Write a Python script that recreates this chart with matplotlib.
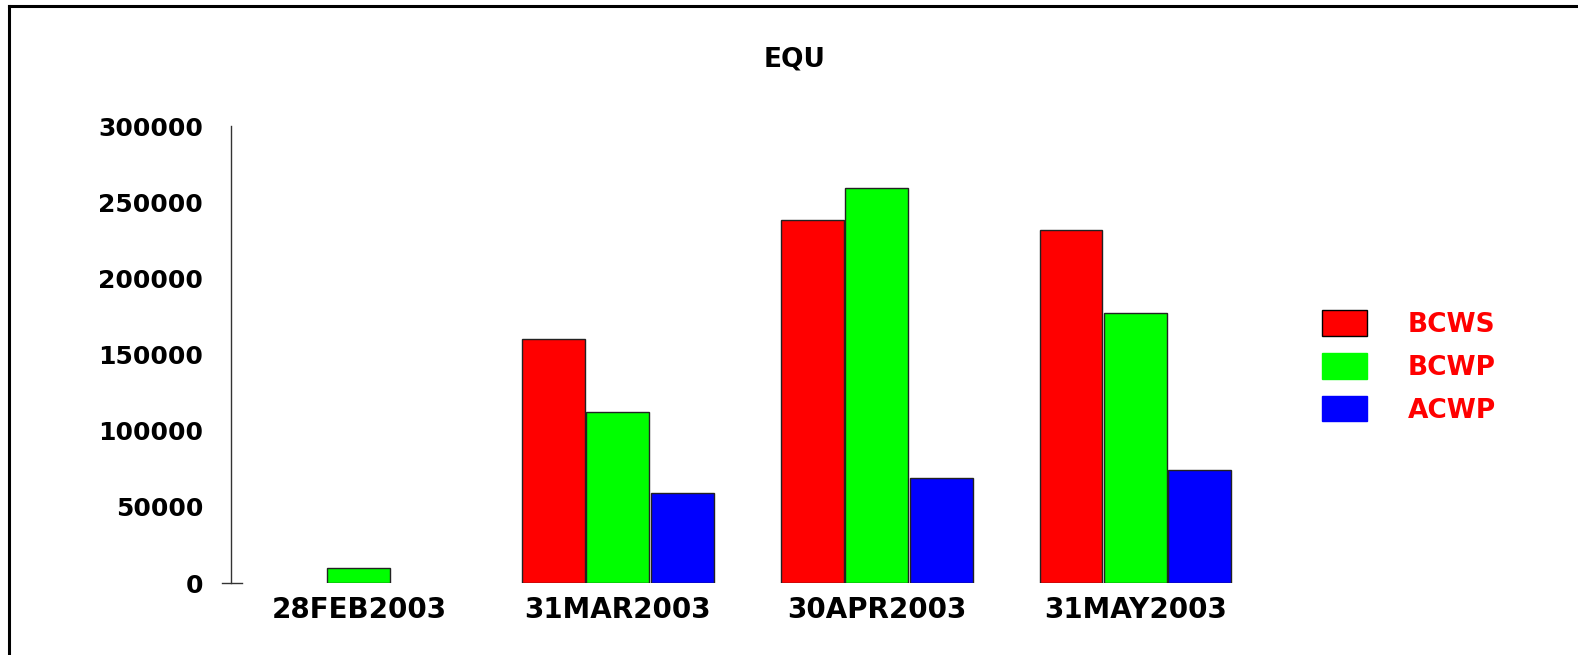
import numpy as np
import matplotlib
matplotlib.use("Agg")
import matplotlib.pyplot as plt
from matplotlib.lines import Line2D
from matplotlib.patches import Patch

# values
dates = ["28FEB2003", "31MAR2003", "30APR2003", "31MAY2003"]
bcws = [0, 160000, 238000, 232000]
bcwp = [10000, 112000, 259000, 177000]
acwp = [0, 59000, 69000, 74000]
series_names = ["BCWS", "BCWP", "ACWP"]
y_ticks = [0, 50000, 100000, 150000, 200000, 250000, 300000]

plt.rcParams["font.family"] = ["DejaVu Sans"]
plt.rcParams["font.weight"] = "bold"

fig = plt.figure(figsize=(15.78, 6.55), dpi=100)
ax = fig.add_axes([0.1464, 0.1099, 0.6552, 0.6977])

x = np.arange(len(dates))
step = 0.249
width = 0.243
colors = ["#FF0000", "#00FF00", "#0000FF"]
for i, (vals, c) in enumerate(zip([bcws, bcwp, acwp], colors)):
    edges = ["#222222" if v > 0 else "none" for v in vals]
    ax.bar(x + (i - 1) * step, vals, width, color=c, edgecolor=edges,
           linewidth=1.0)

ax.set_xlim(-0.494, 3.5)
ax.set_ylim(0, 300000)
ax.set_yticks(y_ticks)
ax.set_yticklabels([str(v) for v in y_ticks], fontsize=18, fontweight="bold")
ax.set_xticks(x)
ax.set_xticklabels(dates, fontsize=20, fontweight="bold")
ax.tick_params(axis="y", length=0, pad=20)
ax.tick_params(axis="x", length=0, pad=9)

for s in ["top", "right", "bottom"]:
    ax.spines[s].set_visible(False)
ax.spines["left"].set_color("#333333")
ax.spines["left"].set_linewidth(1.0)

# the little tick at zero
ax.axhline(0, xmin=-0.0087, xmax=0.0106, color="#333333", lw=1.0,
           clip_on=False)

fig.text(795 / 1578, 1 - 59 / 655, "EQU", ha="center", va="center",
         fontsize=19, fontweight="bold")

handles = [Patch(facecolor=c, edgecolor=("black" if i == 0 else c), lw=1)
           for i, c in enumerate(colors)]
leg = fig.legend(handles, series_names, loc="center left",
                 bbox_to_anchor=(1322 / 1578, 1 - 367 / 655), frameon=False,
                 fontsize=19, handlelength=1.7, handleheight=1.1,
                 handletextpad=1.55, labelspacing=0.58, borderpad=0,
                 borderaxespad=0)
for t in leg.get_texts():
    t.set_color("#FF0000")
    t.set_fontweight("bold")

# page border (top and left)
fig.add_artist(Line2D([9 / 1578, 1.0], [1 - 6 / 655, 1 - 6 / 655],
                      transform=fig.transFigure, color="black", lw=2.2))
fig.add_artist(Line2D([9 / 1578, 9 / 1578], [0, 1 - 6 / 655],
                      transform=fig.transFigure, color="black", lw=2.2))

fig.savefig("out.png", dpi=100, facecolor="white")
